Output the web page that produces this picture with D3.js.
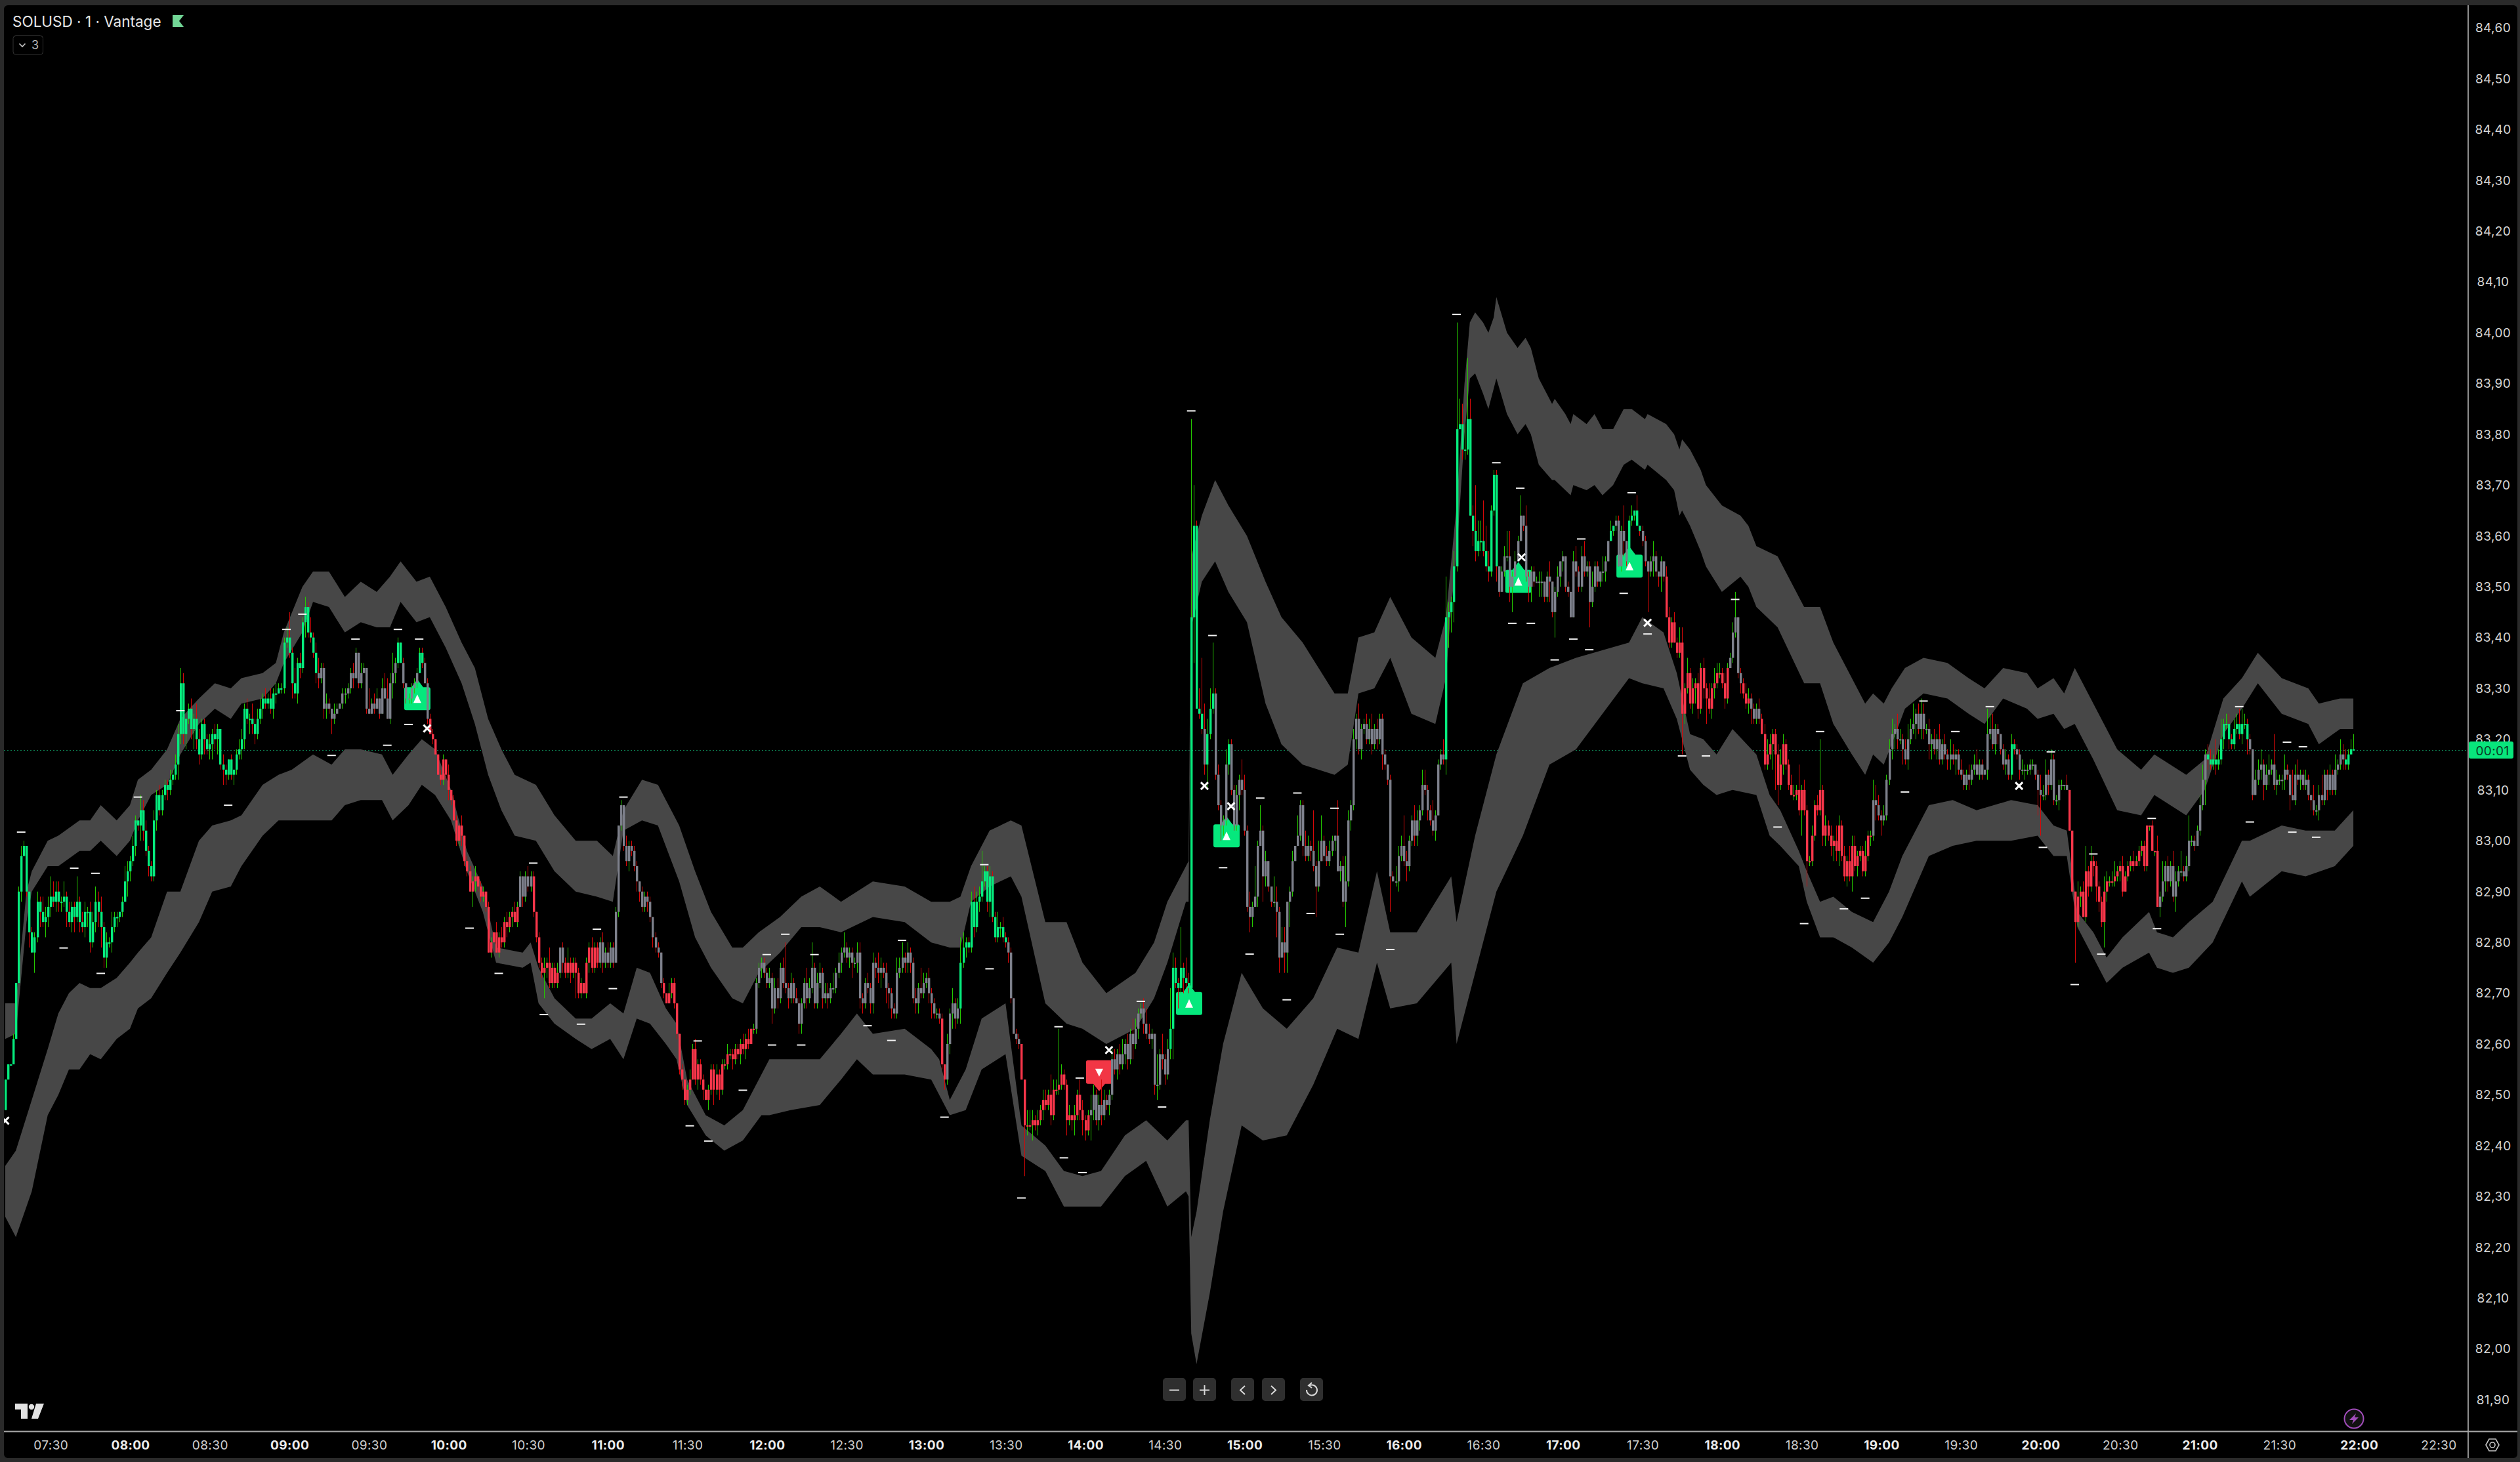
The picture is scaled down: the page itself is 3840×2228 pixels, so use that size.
<!DOCTYPE html>
<html><head><meta charset="utf-8">
<style>html,body{margin:0;padding:0;background:#2a2a2a;overflow:hidden}svg{display:block}text{font-family:Inter,"Liberation Sans",sans-serif}</style>
<script src="https://cdn.jsdelivr.net/npm/d3@7/dist/d3.min.js"></script>
</head><body>
<script>
// prices in US cents, one bar per minute from 07:13
const closes=[
8253,8256,8256,8261,8272,8290,8297,8299,8290,8282,8278,8281,8288,8286,8284,8285,8287,8289,8288,8290,
8288,8288,8289,8286,8284,8287,8285,8288,8284,8283,8286,8286,8280,8284,8288,8286,8283,8277,8280,8280,
8283,8285,8285,8286,8288,8292,8294,8296,8299,8304,8303,8306,8302,8298,8295,8293,8304,8309,8306,8309,
8311,8310,8312,8313,8315,8321,8331,8321,8324,8326,8322,8324,8320,8317,8323,8320,8318,8319,8321,8320,
8322,8315,8314,8313,8316,8313,8314,8317,8318,8320,8326,8324,8324,8323,8321,8324,8326,8328,8327,8328,
8326,8329,8329,8330,8330,8339,8340,8337,8331,8329,8335,8334,8343,8346,8341,8340,8337,8333,8332,8334,
8326,8327,8326,8324,8325,8326,8327,8329,8329,8330,8333,8332,8337,8331,8333,8334,8326,8325,8327,8326,
8328,8325,8330,8328,8324,8331,8333,8335,8339,8335,8331,8328,8328,8330,8331,8333,8337,8335,8331,8324,
8321,8320,8317,8313,8312,8316,8313,8310,8308,8304,8300,8303,8301,8296,8294,8290,8292,8293,8291,8289,
8290,8287,8278,8280,8282,8278,8281,8280,8284,8283,8285,8286,8284,8287,8293,8289,8293,8291,8293,8286,
8281,8276,8274,8275,8276,8272,8275,8272,8274,8279,8276,8274,8276,8274,8276,8274,8270,8272,8270,8276,
8279,8275,8279,8276,8280,8276,8278,8276,8279,8276,8286,8303,8307,8299,8296,8299,8298,8295,8292,8290,
8287,8289,8288,8285,8281,8279,8278,8272,8270,8268,8270,8272,8268,8262,8255,8253,8249,8251,8253,8259,
8253,8256,8253,8251,8249,8251,8255,8251,8254,8251,8256,8256,8258,8258,8257,8259,8258,8260,8259,8261,
8260,8263,8263,8272,8275,8276,8274,8272,8273,8267,8271,8269,8275,8272,8271,8269,8272,8269,8268,8264,
8268,8272,8269,8271,8275,8268,8272,8274,8269,8270,8269,8271,8271,8274,8276,8278,8279,8277,8278,8276,
8276,8278,8269,8268,8272,8271,8268,8276,8275,8274,8275,8274,8271,8270,8267,8266,8274,8275,8277,8276,
8278,8276,8269,8268,8271,8270,8272,8273,8270,8268,8266,8266,8265,8256,8253,8260,8266,8268,8265,8267,
8276,8279,8280,8279,8288,8283,8288,8289,8292,8294,8288,8293,8285,8281,8283,8283,8281,8280,8278,8269,
8262,8261,8260,8253,8244,8244,8244,8245,8244,8245,8247,8249,8248,8250,8246,8251,8251,8252,8254,8252,
8245,8246,8245,8246,8250,8247,8245,8243,8246,8247,8250,8245,8248,8246,8249,8248,8250,8257,8255,8258,
8256,8258,8260,8257,8262,8260,8263,8266,8267,8264,8262,8261,8262,8252,8252,8258,8257,8254,8259,8263,
8275,8272,8271,8275,8273,8272,8271,8344,8362,8326,8325,8322,8315,8321,8326,8329,8313,8307,8303,8304,
8315,8319,8310,8303,8309,8312,8310,8302,8287,8285,8287,8289,8299,8302,8293,8296,8291,8288,8288,8286,
8277,8280,8278,8288,8290,8296,8299,8301,8307,8299,8297,8299,8298,8295,8291,8296,8300,8297,8296,8298,
8300,8301,8294,8295,8288,8292,8304,8307,8320,8324,8318,8322,8323,8320,8322,8319,8322,8320,8324,8317,
8315,8312,8293,8292,8292,8297,8299,8296,8295,8300,8304,8301,8304,8306,8311,8310,8306,8304,8302,8305,
8315,8317,8316,8344,8345,8347,8354,8381,8382,8377,8377,8383,8364,8361,8357,8359,8359,8357,8354,8353,
8365,8372,8354,8349,8353,8356,8356,8350,8352,8355,8359,8364,8362,8352,8350,8353,8351,8351,8351,8351,
8348,8352,8351,8345,8349,8352,8355,8356,8350,8349,8344,8355,8353,8350,8356,8353,8354,8347,8350,8354,
8351,8353,8353,8355,8359,8361,8362,8363,8354,8361,8359,8355,8363,8364,8365,8362,8361,8359,8355,8353,
8355,8356,8353,8352,8355,8352,8344,8339,8343,8339,8337,8339,8325,8330,8333,8327,8330,8331,8326,8334,
8330,8328,8326,8330,8331,8333,8333,8331,8328,8334,8336,8341,8344,8333,8331,8329,8327,8328,8326,8324,
8326,8324,8321,8315,8317,8319,8321,8317,8311,8315,8319,8315,8311,8309,8309,8310,8306,8310,8306,8296,
8296,8301,8307,8306,8310,8301,8303,8301,8299,8300,8298,8303,8297,8293,8296,8293,8299,8295,8297,8298,
8294,8297,8301,8301,8308,8307,8305,8304,8305,8312,8318,8321,8322,8320,8320,8318,8316,8320,8322,8323,
8325,8322,8325,8322,8322,8319,8320,8318,8320,8316,8319,8317,8316,8317,8316,8317,8314,8313,8311,8313,
8312,8314,8315,8313,8315,8313,8314,8321,8322,8319,8322,8321,8318,8315,8316,8313,8319,8318,8317,8314,
8314,8314,8314,8315,8315,8313,8310,8309,8309,8313,8311,8316,8308,8308,8311,8311,8311,8310,8302,8290,
8284,8289,8290,8285,8294,8291,8296,8295,8291,8288,8284,8290,8292,8292,8292,8293,8294,8295,8290,8293,
8295,8296,8295,8296,8298,8299,8295,8303,8303,8298,8298,8287,8289,8292,8295,8292,8295,8289,8292,8294,
8294,8293,8295,8300,8300,8299,8302,8307,8312,8317,8316,8315,8316,8315,8316,8320,8323,8323,8320,8319,
8322,8323,8321,8323,8323,8320,8318,8309,8312,8314,8315,8311,8313,8314,8315,8311,8312,8312,8312,8314,
8313,8309,8308,8313,8312,8313,8311,8312,8309,8308,8306,8306,8309,8308,8313,8310,8313,8310,8314,8315,
8317,8316,8315,8317,8318,8318];
// how far each high rises above the body, in cents
const wickUp=[
0,0,0,1,0,1,2,1,0,0,1,1,2,1,3,2,2,4,3,2,
2,1,3,1,2,1,1,5,1,2,2,1,2,2,3,2,3,1,2,1,
3,1,1,0,1,3,2,1,2,1,0,3,2,2,1,1,2,1,2,1,
1,1,2,1,2,2,3,2,0,1,2,1,3,2,1,1,1,2,1,2,
1,0,2,1,0,1,0,1,2,2,1,2,1,3,1,2,2,1,2,1,
2,1,2,1,1,1,2,5,1,3,1,2,1,2,1,3,1,2,3,1,
1,2,1,0,2,1,0,1,1,1,1,2,1,0,2,1,0,4,1,2,
2,0,2,3,4,2,4,1,1,0,1,0,1,1,1,1,1,1,1,1,
1,1,0,0,1,1,0,2,0,1,1,0,2,0,1,1,1,2,0,1,
1,0,1,1,0,2,1,2,1,2,1,1,2,1,1,0,1,2,1,1,
0,1,1,2,1,3,1,1,2,0,1,1,3,1,1,1,1,1,0,1,
1,2,1,1,1,2,1,2,1,1,1,0,1,0,2,1,1,1,1,0,
1,1,1,1,0,1,1,0,1,0,2,1,1,0,0,1,0,1,2,1,
2,1,1,1,0,1,1,1,2,1,1,1,2,1,1,1,1,1,2,1,
2,0,1,1,1,1,1,1,2,1,2,2,1,2,8,1,2,1,2,1,
1,1,3,2,5,1,2,2,1,2,2,1,3,1,2,1,3,1,1,1,
1,2,2,1,1,2,1,2,1,3,2,1,2,1,1,1,3,2,3,1,
2,1,1,2,1,4,2,1,2,1,1,1,1,1,0,2,1,3,1,2,
5,3,1,1,2,3,2,2,6,1,1,2,1,1,3,1,2,1,1,1,
0,1,1,0,0,3,3,2,1,2,1,2,2,1,4,2,2,11,2,1,
1,2,0,2,1,3,2,1,1,3,2,1,2,5,2,1,1,2,2,1,
2,3,1,2,1,3,2,1,1,2,3,2,1,0,6,1,4,1,2,8,
3,2,1,8,1,4,2,39,8,1,4,11,5,3,4,10,1,2,1,1,
3,1,1,1,2,1,4,3,1,3,1,6,1,5,1,2,0,0,5,3,
1,3,3,0,1,2,0,4,1,1,3,2,1,8,1,4,5,1,2,2,
1,0,7,1,2,5,2,1,2,1,3,1,1,2,2,3,1,2,1,1,
1,0,1,1,3,2,2,6,2,1,1,3,2,1,3,3,1,1,4,1,
1,1,3,8,2,1,3,21,5,4,5,12,4,2,9,4,4,8,5,3,
1,1,1,0,1,2,5,5,1,2,1,4,0,4,1,1,1,1,2,2,
0,1,3,0,1,2,0,1,0,1,0,2,3,1,2,3,1,1,3,1,
1,0,3,1,0,2,0,1,1,1,5,0,1,2,0,3,0,1,1,0,
1,3,1,0,1,0,2,2,1,2,1,3,3,1,3,1,2,1,2,1,
2,1,3,1,3,2,2,1,2,1,1,2,5,0,1,1,2,2,1,1,
1,2,1,2,3,2,1,1,2,3,2,1,1,2,2,1,5,1,2,1,
1,2,1,2,10,1,2,1,2,1,3,2,1,2,1,3,2,2,1,1,
1,3,1,1,4,3,2,1,2,1,2,3,1,3,2,1,2,3,2,4,
1,2,3,2,1,2,1,2,1,3,1,2,1,3,2,1,1,2,1,1,
2,1,2,3,1,1,0,5,3,3,1,1,0,1,2,1,2,1,1,1,
2,1,1,1,1,0,1,3,2,3,1,2,1,1,1,1,0,2,0,0,
0,3,1,2,5,1,3,1,1,1,1,3,2,1,2,3,1,1,2,1,
1,1,2,1,1,1,1,0,0,1,0,3,1,4,1,2,1,3,2,1,
4,1,2,5,1,1,1,2,3,1,2,2,1,4,2,4,1,2,2,1,
2,2,3,3,2,1,1,0,2,2,3,1,2,3,1,6,2,1,1,3,
1,1,5,2,3,1,1,2,1,0,3,1,2,4,1,1,2,1,3,1,
3,2,2,1,2,3];
// how far each low falls below the body, in cents
const wickDn=[
0,0,0,0,0,0,2,0,1,3,0,4,1,3,1,3,2,2,1,2,
2,2,1,3,1,2,3,1,2,1,2,3,2,1,2,3,4,2,2,1,
2,1,2,1,1,0,3,2,1,2,1,3,2,1,2,1,1,2,1,1,
1,2,1,1,1,3,2,2,3,1,2,4,2,2,1,3,1,2,3,2,
3,1,3,2,1,1,2,1,1,2,2,1,3,2,2,1,1,2,1,1,
1,2,2,0,1,1,1,1,3,1,2,2,1,3,1,1,1,2,2,1,
2,2,1,3,1,0,0,1,2,1,1,2,0,1,1,0,1,0,0,1,
0,1,0,0,0,1,3,2,1,0,1,1,1,1,1,1,0,1,0,1,
0,1,0,0,1,1,1,2,1,0,1,1,2,1,1,0,3,2,1,1,
1,1,0,1,0,0,1,1,1,2,1,2,0,1,0,2,1,1,1,1,
1,1,1,5,2,1,1,1,1,1,2,1,1,2,1,5,1,1,0,1,
2,1,1,1,1,2,1,1,1,1,0,1,1,1,1,2,1,1,2,2,
1,1,2,1,2,1,1,1,1,0,0,1,1,1,1,2,1,1,1,0,
1,2,1,2,0,2,1,3,1,2,1,1,1,1,2,1,1,2,1,2,
1,0,1,1,1,2,1,1,1,3,1,2,1,1,1,2,1,1,0,2,
2,1,2,1,1,1,1,1,2,1,2,1,1,1,1,2,1,1,2,3,
1,2,2,2,1,1,2,2,2,2,3,1,3,3,2,1,1,1,1,2,
2,2,1,2,2,1,1,1,2,3,1,1,1,1,2,1,2,3,2,1,
3,1,2,1,1,2,1,2,1,1,2,3,1,1,1,2,1,1,2,1,
0,1,1,0,10,2,1,3,1,2,1,2,1,1,2,1,1,1,1,1,
3,1,2,3,1,2,3,2,1,5,2,1,2,2,1,1,2,1,1,2,
2,1,2,2,1,3,1,2,1,2,1,1,2,2,3,1,2,2,1,2,
6,1,4,1,3,1,1,0,9,0,1,1,2,5,1,1,1,1,3,2,
1,2,1,1,1,3,1,1,1,3,2,0,2,0,5,2,1,1,1,5,
3,0,4,4,5,1,0,0,1,2,1,1,2,1,6,1,0,1,1,1,
1,2,0,2,1,5,1,2,1,2,1,2,1,1,1,2,1,2,1,3,
1,1,7,0,1,2,1,1,3,1,1,2,2,2,1,1,2,1,1,2,
0,1,1,3,6,4,4,1,0,2,2,1,0,3,2,1,2,1,1,2,
1,1,3,1,0,1,1,3,5,0,0,0,1,1,3,3,1,0,3,3,
1,1,4,1,5,1,2,2,1,1,0,0,1,1,1,1,1,5,1,1,
1,1,2,2,0,0,1,1,0,1,3,1,1,1,1,0,1,1,1,8,
1,3,1,2,3,1,0,1,1,0,1,1,8,2,1,1,2,3,2,1,
2,5,1,2,2,1,1,1,2,1,0,1,1,1,2,1,1,2,3,1,
1,1,0,1,1,1,5,7,4,1,2,1,1,0,1,1,1,5,1,5,
1,1,1,1,1,2,2,1,2,3,2,3,1,1,2,1,3,1,2,1,
1,1,1,2,1,3,1,3,1,1,1,2,3,2,1,3,1,2,1,1,
3,1,2,2,1,3,3,1,2,1,1,1,2,2,1,3,1,1,1,1,
2,1,1,0,1,1,0,2,1,1,2,2,1,1,2,1,1,1,1,2,
1,2,1,1,1,1,5,8,1,1,2,1,1,1,2,1,1,0,0,0,
8,1,2,0,1,2,1,2,3,2,1,5,2,1,1,1,1,2,1,0,
1,1,1,0,1,1,1,1,1,0,1,0,2,1,2,2,1,1,3,1,
1,1,1,1,1,1,0,1,1,5,2,1,1,2,1,1,2,1,2,1,
1,1,1,2,1,3,1,1,0,1,2,3,1,2,1,1,2,1,2,2,
1,3,0,1,1,2,1,1,1,2,1,1,2,1,1,2,1,1,1,1,
1,2,1,1,0,0];
// body colour regimes: bar index at which each begins
const regimeStart=[0,118,148,150,156,158,160,194,199,209,211,224,248,283,353,355,360,378,383,409,439,452,453,456,461,462,543,563,605,607,612,617,626,650,655,658,662,704,756,758,778,812,830,846,882];
const regimeKind=["up","flat","up","flat","up","flat","down","flat","down","flat","down","flat","down","flat","down","flat","up","flat","down","flat","up","flat","up","flat","up","flat","up","flat","up","flat","up","flat","down","flat","down","flat","down","flat","up","flat","down","flat","up","flat","up"];
// upper envelope
const upperIdx=[0,4,8,10,16,20,28,32,36,42,47,50,55,61,66,73,79,85,89,97,102,105,112,116,122,128,134,140,145,149,155,160,166,172,177,182,187,192,200,207,215,223,229,233,240,246,254,260,266,274,278,284,292,300,307,315,327,339,349,356,360,364,371,379,383,392,400,406,415,426,433,438,445,446,447,451,456,461,468,475,481,489,501,506,510,516,522,530,539,543,545,547,550,552,554,557,559,561,562,566,570,573,575,578,583,584,588,590,591,596,599,602,606,610,613,618,619,626,629,631,632,635,639,641,647,654,657,660,668,678,684,689,696,701,704,708,711,716,723,732,740,746,753,762,766,772,776,780,787,796,805,810,816,822,829,836,843,849,858,868,872,880,885];
const upperTop=[8268,8268,8290,8294,8300,8301,8304,8304,8307,8304,8307,8312,8314,8318,8324,8328,8331,8330,8332,8333,8335,8341,8350,8353,8353,8348,8351,8349,8352,8355,8351,8352,8346,8339,8334,8324,8318,8313,8311,8305,8300,8300,8297,8306,8312,8311,8303,8294,8286,8279,8279,8282,8285,8289,8291,8288,8292,8291,8288,8288,8289,8295,8302,8304,8303,8284,8284,8276,8270,8274,8280,8288,8295,8296,8356,8364,8371,8366,8360,8351,8344,8339,8329,8329,8340,8341,8348,8340,8336,8344,8355,8366,8390,8402,8404,8402,8400,8403,8407,8400,8397,8399,8397,8391,8386,8387,8384,8382,8384,8382,8384,8381,8381,8385,8385,8383,8384,8382,8380,8377,8379,8377,8373,8370,8366,8364,8362,8358,8356,8346,8346,8339,8332,8327,8329,8327,8330,8334,8336,8335,8332,8330,8334,8333,8330,8332,8329,8334,8327,8318,8314,8317,8315,8313,8316,8328,8332,8337,8332,8330,8327,8328,8328];
const upperBot=[8261,8262,8284,8290,8295,8295,8298,8298,8300,8297,8300,8304,8309,8311,8317,8323,8326,8324,8327,8328,8331,8335,8341,8347,8346,8341,8343,8342,8342,8347,8343,8344,8338,8331,8323,8313,8306,8301,8300,8294,8290,8289,8288,8302,8304,8303,8292,8281,8275,8269,8268,8274,8278,8283,8283,8282,8285,8284,8280,8279,8279,8288,8291,8293,8289,8268,8264,8263,8260,8263,8269,8276,8288,8288,8342,8351,8355,8349,8343,8327,8319,8315,8313,8315,8329,8330,8336,8325,8323,8332,8346,8356,8380,8391,8392,8388,8385,8389,8391,8384,8380,8382,8380,8374,8371,8371,8369,8368,8370,8369,8370,8368,8370,8374,8375,8373,8374,8371,8369,8364,8365,8362,8357,8354,8349,8352,8350,8346,8342,8331,8331,8323,8317,8313,8317,8315,8319,8326,8329,8328,8325,8323,8328,8326,8324,8325,8322,8323,8316,8306,8305,8309,8307,8305,8310,8321,8326,8331,8325,8323,8319,8322,8322];
// lower envelope
const lowerIdx=[0,4,10,16,20,24,28,32,36,42,47,50,55,61,66,73,78,85,89,97,103,108,116,123,128,134,142,146,152,157,162,168,174,180,185,195,198,201,207,215,221,228,233,238,243,249,253,257,264,271,278,285,288,296,307,315,321,327,339,349,352,356,362,368,377,383,392,399,406,413,422,430,438,445,446,447,449,454,459,466,474,483,493,502,510,517,522,532,545,547,554,562,572,582,592,612,617,625,630,635,640,645,651,660,665,669,676,679,684,689,696,704,710,715,725,734,743,756,766,772,777,781,787,792,798,808,811,817,823,832,843,846,858,867,878,885];
const lowerTop=[8236,8239,8249,8259,8266,8270,8272,8271,8271,8273,8276,8278,8281,8290,8290,8300,8303,8304,8305,8311,8313,8314,8317,8315,8318,8318,8317,8313,8317,8320,8318,8310,8298,8291,8279,8278,8280,8275,8269,8265,8265,8268,8266,8275,8274,8267,8264,8253,8246,8244,8247,8254,8257,8257,8257,8262,8266,8262,8263,8259,8257,8249,8255,8265,8268,8244,8240,8235,8234,8235,8242,8245,8241,8245,8245,8222,8227,8245,8260,8274,8267,8263,8269,8279,8278,8294,8282,8282,8293,8284,8301,8317,8331,8334,8336,8339,8344,8341,8333,8321,8320,8317,8322,8317,8309,8306,8298,8294,8288,8289,8286,8284,8290,8297,8307,8308,8306,8308,8307,8303,8302,8286,8282,8277,8281,8286,8282,8281,8284,8288,8300,8300,8303,8302,8302,8306];
const lowerBot=[8226,8222,8231,8246,8250,8255,8255,8258,8257,8261,8263,8267,8269,8274,8278,8284,8290,8291,8295,8301,8304,8304,8304,8304,8307,8308,8308,8304,8307,8311,8309,8304,8294,8286,8276,8275,8276,8268,8264,8261,8259,8261,8257,8265,8264,8260,8257,8248,8242,8239,8241,8246,8246,8247,8248,8253,8257,8254,8254,8253,8250,8246,8247,8255,8258,8238,8235,8228,8228,8228,8234,8237,8228,8231,8230,8203,8197,8211,8227,8244,8241,8242,8252,8263,8261,8276,8267,8268,8276,8260,8274,8290,8301,8315,8318,8332,8331,8330,8324,8314,8311,8309,8310,8309,8301,8299,8295,8288,8281,8281,8279,8276,8280,8285,8297,8299,8300,8300,8301,8297,8297,8283,8277,8272,8275,8278,8275,8274,8275,8280,8292,8289,8294,8293,8295,8299];
// pivot ticks
const pivotIdx=[6,26,34,22,36,50,66,84,106,112,123,132,144,148,156,152,175,186,199,203,217,229,223,233,258,265,261,278,287,294,289,300,305,325,334,338,369,371,354,383,397,405,399,406,428,436,447,455,459,469,473,487,501,492,503,483,522,547,562,571,594,613,610,568,575,591,584,597,619,652,632,641,668,684,678,693,701,723,748,735,716,771,768,787,780,790,809,811,842,860,866,846,862,871];
const pivotPrice=[8301.7,8294.6,8293.6,8278.9,8273.9,8308.6,8325.6,8307,8341.6,8344.6,8316.8,8339.7,8318.8,8341.6,8339.7,8322.9,8282.8,8273.9,8295.6,8265.8,8263.9,8270.9,8282.6,8308.6,8243.9,8240.9,8260.6,8250.9,8277.6,8281.6,8259.8,8259.8,8277.6,8263.6,8260.7,8280.4,8295.3,8274.8,8245.6,8229.7,8263.4,8253.3,8237.6,8234.7,8268.4,8247.6,8384.6,8340.4,8294.7,8277.7,8308.4,8309.4,8306.4,8285.7,8281.6,8268.7,8278.6,8403.6,8374.4,8369.4,8359.4,8368.5,8348.7,8342.8,8342.8,8339.7,8335.6,8337.6,8340.7,8347.5,8316.7,8316.7,8302.7,8321.5,8283.7,8286.6,8288.7,8327.5,8326.4,8321.5,8309.6,8317.5,8298.7,8297.4,8271.7,8277.7,8304.4,8282.7,8326.4,8319.4,8318.5,8303.7,8301.7,8300.7];
// exit crosses
const crossIdx=[0,159,416,452,462,571.5,619,759];
const crossPrice=[8244.9,8322.1,8258.8,8310.8,8306.8,8355.8,8342.9,8310.8];
// long signals: bar index, price at the foot of the badge
const longIdx=[155.3,446.2,460.3,570.3,612.2];
const longPrice=[8325.7,8265.7,8298.7,8348.8,8351.8];
// short signals: bar index, price at the head of the badge
const shortIdx=[412.3];
const shortPrice=[8256.8];
const currentPrice=8317.8;
const priceTicks=[8190,8200,8210,8220,8230,8240,8250,8260,8270,8280,8290,8300,8310,8320,8330,8340,8350,8360,8370,8380,8390,8400,8410,8420,8430,8440,8450,8460];
const timeLabels=["07:30","08:00","08:30","09:00","09:30","10:00","10:30","11:00","11:30","12:00","12:30","13:00","13:30","14:00","14:30","15:00","15:30","16:00","16:30","17:00","17:30","18:00","18:30","19:00","19:30","20:00","20:30","21:00","21:30","22:00","22:30"];

const W=3840,H=2228,paneL=6,paneT=8,paneR=3761,paneB=2181;
const x=d3.scaleLinear().domain([0,885]).range([8,8+885*4.043]);
const y=d3.scaleLinear().domain([8330,8190]).range([1049,2133]);
const col={up:"#06ec7e",down:"#f9364a",flat:"#7d808b"};
const wickCol={up:"#24c800",down:"#d60808"};
const svg=d3.select("body").append("svg").attr("width",W).attr("height",H);
svg.append("rect").attr("width",W).attr("height",H).attr("fill","#2a2a2a");
svg.append("rect").attr("x",paneL).attr("y",paneT).attr("width",3830).attr("height",2214).attr("rx",6).attr("fill","#000");
const defs=svg.append("defs");
defs.append("clipPath").attr("id","pane").append("rect").attr("x",paneL).attr("y",paneT).attr("width",paneR-paneL).attr("height",paneB-paneT);
const g=svg.append("g").attr("clip-path","url(#pane)");

// price line sits behind
g.append("line").attr("x1",paneL).attr("x2",paneR).attr("y1",y(currentPrice)).attr("y2",y(currentPrice))
 .attr("stroke","#12b877").attr("stroke-width",1).attr("stroke-dasharray","2 3").attr("opacity",.75);

function band(idx,top,bot){
  const a=d3.area().x(d=>x(idx[d])).y0(d=>y(bot[d])).y1(d=>y(top[d]));
  g.append("path").attr("d",a(d3.range(idx.length))).attr("fill","#474747");
}
band(upperIdx,upperTop,upperBot);
band(lowerIdx,lowerTop,lowerBot);

// signal badges under the candles
longIdx.forEach((b,k)=>{
  const cx=x(b),by=y(longPrice[k]);
  g.append("path").attr("d",`M${cx-20} ${by-3}V${by-32}Q${cx-20} ${by-35} ${cx-17} ${by-35}H${cx-9}L${cx} ${by-47}L${cx+9} ${by-35}H${cx+17}Q${cx+20} ${by-35} ${cx+20} ${by-32}V${by-3}Q${cx+20} ${by} ${cx+17} ${by}H${cx-17}Q${cx-20} ${by} ${cx-20} ${by-3}Z`).attr("fill","#05e87d");
});
shortIdx.forEach((b,k)=>{
  const cx=x(b),ty=y(shortPrice[k]);
  g.append("path").attr("d",`M${cx-20} ${ty+3}V${ty+33}Q${cx-20} ${ty+36} ${cx-17} ${ty+36}H${cx-9}L${cx} ${ty+47}L${cx+9} ${ty+36}H${cx+17}Q${cx+20} ${ty+36} ${cx+20} ${ty+33}V${ty+3}Q${cx+20} ${ty} ${cx+17} ${ty}H${cx-17}Q${cx-20} ${ty} ${cx-20} ${ty+3}Z`).attr("fill","#f23645");
});

// candles
const kindOf=i=>regimeKind[d3.bisectRight(regimeStart,i)-1];
const bars=closes.map((c,i)=>{
  const o=i?closes[i-1]:c-6;
  return {i,o,c,h:Math.max(o,c)+wickUp[i],l:Math.min(o,c)-wickDn[i]};
});
g.append("g").selectAll("rect").data(bars).join("rect")
 .attr("x",d=>Math.round(x(d.i))).attr("width",1).attr("y",d=>y(d.h)).attr("height",d=>y(d.l)-y(d.h))
 .attr("fill",d=>d.c>=d.o?wickCol.up:wickCol.down);
g.append("g").selectAll("rect").data(bars).join("rect")
 .attr("x",d=>Math.round(x(d.i))-1).attr("width",3.4).attr("y",d=>y(Math.max(d.o,d.c)))
 .attr("height",d=>Math.max(2,Math.abs(y(d.o)-y(d.c))))
 .attr("fill",d=>col[kindOf(d.i)]);

// badge arrows on top
longIdx.forEach((b,k)=>{
  const cx=x(b),by=y(longPrice[k]);
  g.append("path").attr("d",`M${cx} ${by-24}L${cx+6} ${by-11}H${cx-6}Z`).attr("fill","#fff");
});
shortIdx.forEach((b,k)=>{
  const cx=x(b),ty=y(shortPrice[k]);
  g.append("path").attr("d",`M${cx-6} ${ty+13}H${cx+6}L${cx} ${ty+25}Z`).attr("fill","#fff");
});

// pivot ticks
g.append("g").selectAll("rect").data(pivotIdx).join("rect")
 .attr("x",(d)=>x(d)-6.5).attr("y",(d,k)=>y(pivotPrice[k])-1).attr("width",13).attr("height",2).attr("fill","#f2f2f2");
// crosses
crossIdx.forEach((b,k)=>{
  const cx=x(b),cy=y(crossPrice[k]),r=5.5;
  g.append("path").attr("d",`M${cx-r} ${cy-r}L${cx+r} ${cy+r}M${cx+r} ${cy-r}L${cx-r} ${cy+r}`).attr("stroke","#fff").attr("stroke-width",3);
});

// axes frame
svg.append("rect").attr("x",paneR-1).attr("y",paneT).attr("width",2).attr("height",2222-paneT).attr("fill","#8f8f8f");
svg.append("rect").attr("x",paneL).attr("y",paneB-0.5).attr("width",3830).attr("height",2).attr("fill","#a8a8a8");

// axes built from the scales
const yAxis=svg.append("g");
yAxis.selectAll("text").data(priceTicks).join("text").attr("x",3799).attr("y",d=>y(d)).attr("dy","0.36em")
 .attr("text-anchor","middle").attr("fill","#d6d6d6").attr("font-size",19).attr("letter-spacing","0.4")
 .text(d=>(d/100).toFixed(2).replace(".",","));
const xAxis=svg.append("g");
timeLabels.forEach((t,k)=>{
  const bold=t.endsWith(":00");
  xAxis.append("text").attr("x",x(17+30*k)+1).attr("y",2202).attr("dy","0.36em").attr("text-anchor","middle")
   .attr("fill",bold?"#ececec":"#cfcfcf").attr("font-size",19).attr("font-weight",bold?700:400).attr("letter-spacing","0.4").text(t);
});

// last price label
svg.append("rect").attr("x",paneR+1).attr("y",1130).attr("width",68).attr("height",26).attr("rx",3).attr("fill","#08e67c");
svg.append("text").attr("x",3798).attr("y",1144).attr("dy","0.36em").attr("text-anchor","middle").attr("fill","#0a3d27").attr("font-size",19).attr("letter-spacing","0.4").text("00:01");

// header
svg.append("text").attr("x",19).attr("y",33).attr("dy","0.36em").attr("fill","#e6e6e6").attr("font-size",22.5).text("SOLUSD · 1 · Vantage");
svg.append("path").attr("d","M263 23H280L273 32L280 41H263Z").attr("fill","#72d696");
svg.append("rect").attr("x",20).attr("y",54.5).attr("width",45.5).attr("height",28.5).attr("rx",4).attr("fill","none").attr("stroke","#333");
svg.append("path").attr("d","M29.5 66.5L34 71L38.5 66.5").attr("fill","none").attr("stroke","#c8c8c8").attr("stroke-width",1.6);
svg.append("text").attr("x",53.5).attr("y",69).attr("dy","0.36em").attr("text-anchor","middle").attr("fill","#b8b8b8").attr("font-size",18).text("3");

// logo
svg.append("path").attr("d","M23 2139H42V2162H32V2148H23ZM55 2139H67L58 2162H48Z").attr("fill","#e2e2e2");
svg.append("circle").attr("cx",48).attr("cy",2144).attr("r",4.2).attr("fill","#e2e2e2");

// zoom controls
const btnX=[1772,1818,1876,1923,1981];
btnX.forEach(b=>svg.append("rect").attr("x",b).attr("y",2100).attr("width",35).attr("height",35).attr("rx",5).attr("fill","#2f2f2f"));
const ctl=svg.append("g").attr("fill","none").attr("stroke","#d8d8d8").attr("stroke-width",2);
ctl.append("path").attr("d","M1782 2118.5H1797");
ctl.append("path").attr("d","M1828 2118.5H1843M1835.5 2111V2126");
ctl.append("path").attr("d","M1897 2112L1890 2118.5L1897 2125");
ctl.append("path").attr("d","M1937 2112L1944 2118.5L1937 2125");
ctl.append("path").attr("d","M1995 2111.5A8 8 0 1 1 1991 2118");
ctl.append("path").attr("d","M1999 2107L1994 2111.5L1999 2115");

// lightning badge
svg.append("circle").attr("cx",3587).attr("cy",2162).attr("r",14.5).attr("fill","#111").attr("stroke","#a24dbb").attr("stroke-width",2);
svg.append("path").attr("d","M3590 2154L3580 2164H3586L3584 2170L3594 2160H3588Z").attr("fill","#a24dbb");

// settings hexagon
svg.append("path").attr("d","M3788 2202L3793 2193H3803L3808 2202L3803 2211H3793Z").attr("fill","none").attr("stroke","#c4c4c4").attr("stroke-width",1.6);
svg.append("circle").attr("cx",3798).attr("cy",2202).attr("r",4).attr("fill","none").attr("stroke","#c4c4c4").attr("stroke-width",1.6);
</script>
</body></html>
